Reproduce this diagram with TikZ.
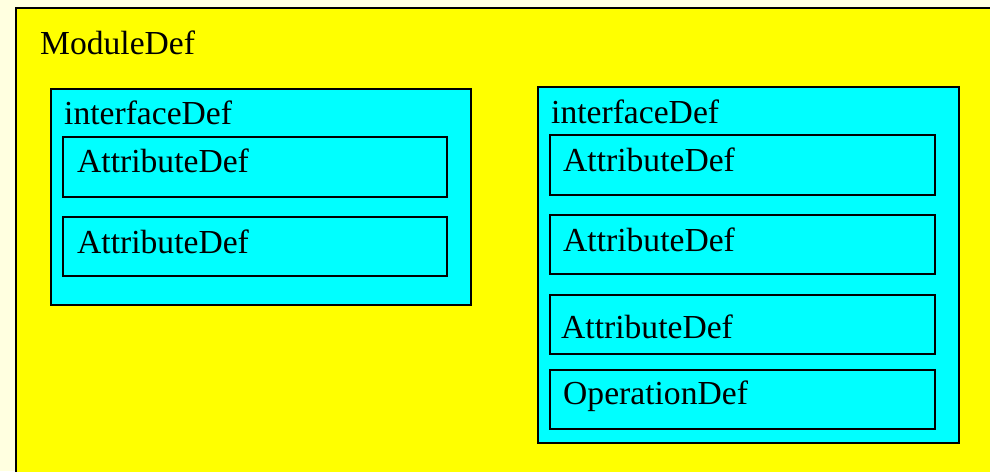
\documentclass[tikz,border=0pt]{standalone}
\usepackage{fontspec}
\setmainfont{Liberation Serif}
\definecolor{pagebg}{HTML}{FFFFE0}
\definecolor{modfill}{HTML}{FFFF00}
\definecolor{ifill}{HTML}{00FFFF}
\begin{document}
\begin{tikzpicture}[x=1pt,y=-1pt,
  box/.style={draw=black,line width=2pt,inner sep=0pt,outer sep=0pt,anchor=north west,rectangle},
  modbox/.style={box,fill=modfill},
  ifbox/.style={box,fill=ifill},
  membox/.style={box,fill=ifill},
  lbl/.style={anchor=base west,inner sep=0pt,font=\fontsize{33.6}{38}\selectfont}]
  \useasboundingbox (0,0) rectangle (990,471);
  \clip (0,0) rectangle (990,471);
  \fill[pagebg] (0,0) rectangle (990,471);

  % module container (runs off the right and bottom edges)
  \node[modbox,minimum width=1000pt,minimum height=490pt] (mod) at (16,8) {};
  \node[lbl] (modlbl) at (40,54) {ModuleDef};

  % left interface
  \node[ifbox,minimum width=420pt,minimum height=216pt] (ifa) at (51,89) {};
  \node[lbl] (ifalbl) at (64,124) {interfaceDef};
  \node[membox,minimum width=384pt,minimum height=60pt] (a1) at (63,137) {};
  \node[lbl] (a1lbl) at (77,172) {AttributeDef};
  \node[membox,minimum width=384pt,minimum height=59pt] (a2) at (63,217) {};
  \node[lbl] (a2lbl) at (77,253) {AttributeDef};

  % right interface
  \node[ifbox,minimum width=421pt,minimum height=356pt] (ifb) at (538,87) {};
  \node[lbl] (ifblbl) at (551,123) {interfaceDef};
  \node[membox,minimum width=385pt,minimum height=60pt] (b1) at (550,135) {};
  \node[lbl] (b1lbl) at (563,171) {AttributeDef};
  \node[membox,minimum width=385pt,minimum height=59pt] (b2) at (550,215) {};
  \node[lbl] (b2lbl) at (563,251) {AttributeDef};
  \node[membox,minimum width=385pt,minimum height=59pt] (b3) at (550,295) {};
  \node[lbl] (b3lbl) at (561,338) {AttributeDef};
  \node[membox,minimum width=385pt,minimum height=59pt] (b4) at (550,370) {};
  \node[lbl] (b4lbl) at (563,404) {OperationDef};
\end{tikzpicture}
\end{document}
